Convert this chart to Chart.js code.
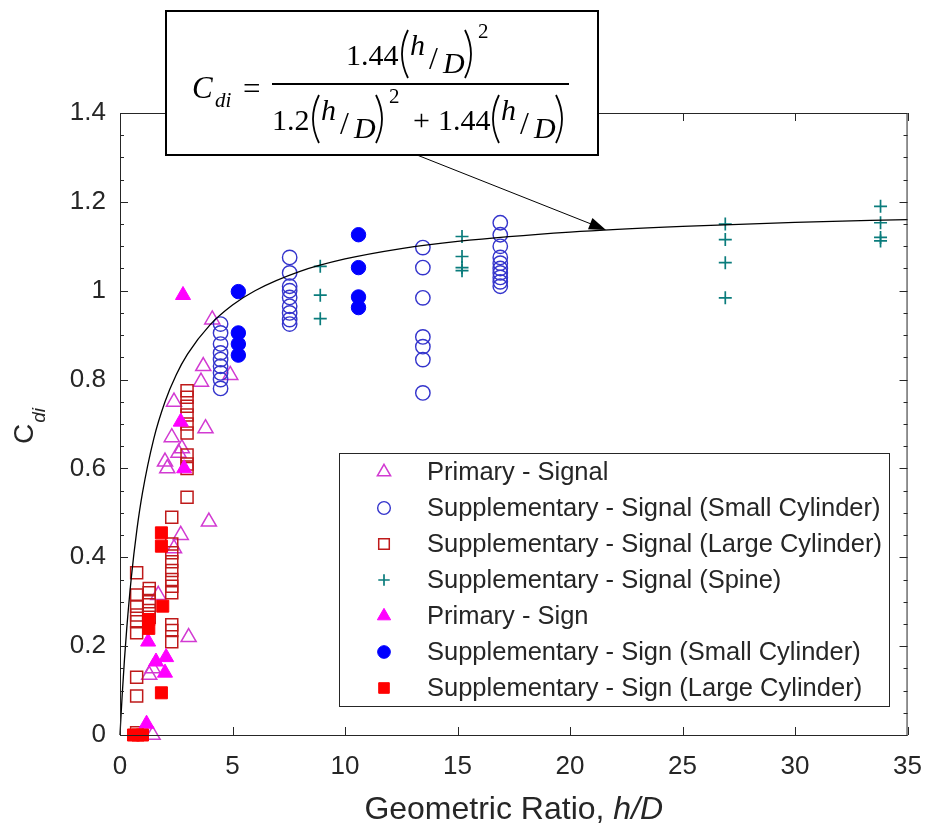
<!DOCTYPE html>
<html>
<head>
<meta charset="utf-8">
<script src="https://cdn.jsdelivr.net/npm/chart.js@4.4.1/dist/chart.umd.min.js"></script>
<style>
  html, body { margin: 0; padding: 0; background: #fff; }
  canvas { display: block; }
</style>
</head>
<body>
<canvas id="graficoCdi" width="938" height="831"></canvas>
<script>
// ejes
const xTicks = [0, 5, 10, 15, 20, 25, 30, 35];
const yTicks = [0, 0.2, 0.4, 0.6, 0.8, 1, 1.2, 1.4];
const yTickLabels = ['0', '0.2', '0.4', '0.6', '0.8', '1', '1.2', '1.4'];

// Primary - Signal
const primSignalX = [4.1, 3.7, 3.6, 4.9, 2.4, 3.8, 2.3, 2.75, 2.6, 2.0, 2.1, 3.95, 2.7, 2.4, 1.7, 3.05, 1.45, 1.3, 1.45];
const primSignalY = [0.935, 0.83, 0.795, 0.81, 0.75, 0.69, 0.67, 0.645, 0.635, 0.615, 0.6, 0.48, 0.45, 0.42, 0.315, 0.22, 0.15, 0.135, 0.0];

// Supplementary - Signal (Small Cylinder)
const smallSignalX = [4.47, 4.47, 4.47, 4.47, 4.47, 4.47, 4.47, 4.47, 4.47,
  7.54, 7.54, 7.54, 7.54, 7.54, 7.54, 7.54, 7.54, 7.54,
  13.46, 13.46, 13.46, 13.46, 13.46, 13.46, 13.46,
  16.9, 16.9, 16.9, 16.9, 16.9, 16.9, 16.9, 16.9, 16.9, 16.9];
const smallSignalY = [0.925, 0.905, 0.88, 0.86, 0.845, 0.83, 0.815, 0.8, 0.78,
  1.075, 1.04, 1.01, 1.0, 0.985, 0.965, 0.95, 0.935, 0.925,
  1.097, 1.052, 0.984, 0.896, 0.874, 0.845, 0.77,
  1.153, 1.126, 1.1, 1.075, 1.062, 1.05, 1.04, 1.03, 1.02, 1.01];

// Supplementary - Signal (Large Cylinder)
const largeSignalX = [0.74, 0.74, 0.74, 0.74, 0.74, 0.74, 0.74, 0.74, 0.74,
  1.3, 1.3, 1.3, 1.3, 1.3,
  2.3, 2.3, 2.3, 2.3, 2.3, 2.3, 2.3, 2.3, 2.3, 2.3, 2.3,
  2.98, 2.98, 2.98, 2.98, 2.98, 2.98, 2.98, 2.98, 2.98, 2.98];
const largeSignalY = [0.365, 0.315, 0.29, 0.27, 0.255, 0.23, 0.13, 0.088, 0.005,
  0.33, 0.32, 0.3, 0.28, 0.265,
  0.49, 0.43, 0.41, 0.39, 0.37, 0.35, 0.335, 0.32, 0.248, 0.235, 0.21,
  0.775, 0.76, 0.74, 0.72, 0.7, 0.68, 0.63, 0.61, 0.6, 0.535];

// Supplementary - Signal (Spine)
const spineX = [8.9, 8.9, 8.9, 15.2, 15.2, 15.2, 15.2, 26.9, 26.9, 26.9, 26.9, 33.8, 33.8, 33.8, 33.8];
const spineY = [1.055, 0.99, 0.937, 1.122, 1.077, 1.052, 1.045, 1.15, 1.115, 1.063, 0.984, 1.19, 1.153, 1.12, 1.112];

// Primary - Sign
const primSignX = [2.8, 2.7, 2.85, 1.25, 2.05, 1.6, 2.0, 1.18];
const primSignY = [0.99, 0.705, 0.6, 0.21, 0.175, 0.165, 0.14, 0.025];

// Supplementary - Sign (Small Cylinder)
const smallSignX = [5.26, 5.26, 5.26, 5.26, 10.6, 10.6, 10.6, 10.6];
const smallSignY = [0.998, 0.905, 0.88, 0.855, 1.126, 1.052, 0.986, 0.962];

// Supplementary - Sign (Large Cylinder)
const largeSignX = [1.84, 1.84, 1.9, 1.28, 1.28, 1.84, 0.6, 1.0, 0.8];
const largeSignY = [0.455, 0.425, 0.29, 0.26, 0.24, 0.095, 0.0, 0.0, 0.0];

// curva ajustada Cdi = 1.44(h/D)^2 / (1.2(h/D)^2 + 1.44(h/D))
const coefA = 1.44;
const coefB = 1.2;
const curveX = [0, 0.02, 0.05, 0.1, 0.2, 0.3, 0.5, 0.75, 1, 1.5, 2, 2.5, 3, 4, 5, 6, 8, 10, 12.5, 15, 20, 25, 30, 35];
const arrowAtX = 21.6;

const cdi = x => x === 0 ? 0 : (coefA * x * x) / (coefB * x * x + coefA * x);

const sans = "'Liberation Sans', Arial, Helvetica, sans-serif";
const serif = "'Liberation Serif', 'DejaVu Serif', serif";
const ink = '#262626';

function puntos(xs, ys) {
  return xs.map((x, i) => ({ x: x, y: ys[i] }));
}

function serie(label, xs, ys, style, radius, stroke, fill, bw, orden) {
  return {
    label: label,
    data: puntos(xs, ys),
    showLine: false,
    pointStyle: style,
    pointRadius: radius,
    pointHoverRadius: radius,
    pointBorderColor: stroke,
    pointBackgroundColor: fill,
    pointBorderWidth: bw,
    borderColor: stroke,
    backgroundColor: fill,
    clip: false,
    order: orden
  };
}

const datasets = [
  serie('Primary - Signal', primSignalX, primSignalY, 'triangle', 8.7, '#d23ad2', 'rgba(0,0,0,0)', 1.5, 8),
  serie('Supplementary - Signal (Small Cylinder)', smallSignalX, smallSignalY, 'circle', 7.2, '#3434cc', 'rgba(0,0,0,0)', 1.4, 7),
  serie('Supplementary - Signal (Large Cylinder)', largeSignalX, largeSignalY, 'rect', 8.5, '#bf1a1a', 'rgba(0,0,0,0)', 1.5, 6),
  serie('Supplementary - Signal (Spine)', spineX, spineY, 'cross', 6.5, '#0a7c7c', 'rgba(0,0,0,0)', 1.7, 5),
  serie('Primary - Sign', primSignX, primSignY, 'triangle', 8.7, '#ff00ff', '#ff00ff', 1, 4),
  serie('Supplementary - Sign (Small Cylinder)', smallSignX, smallSignY, 'circle', 7.2, '#0000ff', '#0000ff', 1, 3),
  serie('Supplementary - Sign (Large Cylinder)', largeSignX, largeSignY, 'rect', 8.5, '#ff0000', '#ff0000', 1, 2),
  {
    label: 'curva',
    type: 'line',
    data: curveX.map(x => ({ x: x, y: cdi(x) })),
    borderColor: '#000',
    borderWidth: 1.3,
    pointRadius: 0,
    cubicInterpolationMode: 'monotone',
    fill: false,
    clip: false,
    order: 1
  }
];

// caja, marcas de los ejes y titulos
const marcoPlugin = {
  id: 'marco',
  afterDatasetsDraw(chart) {
    const ctx = chart.ctx;
    const a = chart.chartArea;
    const sx = chart.scales.x, sy = chart.scales.y;
    ctx.save();
    ctx.strokeStyle = ink;
    ctx.lineWidth = 1;
    ctx.strokeRect(a.left + 0.5, a.top + 0.5, a.right - a.left - 1, a.bottom - a.top);
    ctx.beginPath();
    xTicks.forEach(v => {
      const p = Math.round(sx.getPixelForValue(v)) + 0.5;
      ctx.moveTo(p, a.bottom); ctx.lineTo(p, a.bottom - 8);
      ctx.moveTo(p, a.top); ctx.lineTo(p, a.top + 8);
    });
    for (let k = 0; k <= 28; k++) {
      const v = k * 0.05;
      const len = k % 4 === 0 ? 8 : 4;
      const p = Math.round(sy.getPixelForValue(v)) + 0.5;
      ctx.moveTo(a.left, p); ctx.lineTo(a.left + len, p);
      ctx.moveTo(a.right, p); ctx.lineTo(a.right - len, p);
    }
    ctx.stroke();

    // titulo eje x
    ctx.fillStyle = ink;
    ctx.textBaseline = 'alphabetic';
    const t1 = 'Geometric Ratio, ';
    const t2 = 'h/D';
    ctx.font = '32px ' + sans;
    const w1 = ctx.measureText(t1).width;
    ctx.font = 'italic 32px ' + sans;
    const w2 = ctx.measureText(t2).width;
    const cx = (a.left + a.right) / 2;
    let x0 = cx - (w1 + w2) / 2;
    ctx.font = '32px ' + sans;
    ctx.fillText(t1, x0, 819);
    ctx.font = 'italic 32px ' + sans;
    ctx.fillText(t2, x0 + w1, 819);

    // titulo eje y
    ctx.translate(33, 444);
    ctx.rotate(-Math.PI / 2);
    ctx.font = '28px ' + sans;
    ctx.fillText('C', 0, 0);
    const wc = ctx.measureText('C').width;
    ctx.font = 'italic 19px ' + sans;
    ctx.fillText('di', wc + 1, 12);
    ctx.restore();
  }
};

// leyenda dentro del area de datos
const leyendaPlugin = {
  id: 'leyenda',
  afterDraw(chart) {
    const ctx = chart.ctx;
    const left = 339, top = 453, w = 550, h = 253;
    ctx.save();
    ctx.fillStyle = '#fff';
    ctx.fillRect(left, top, w, h);
    ctx.strokeStyle = ink;
    ctx.lineWidth = 1;
    ctx.strokeRect(left + 0.5, top + 0.5, w, h);
    chart.data.datasets.forEach((ds, i) => {
      if (ds.type === 'line') return;
      const y = 472 + i * 36;
      ctx.fillStyle = ds.pointBackgroundColor;
      ctx.strokeStyle = ds.pointBorderColor;
      ctx.lineWidth = ds.pointBorderWidth;
      Chart.helpers.drawPoint(ctx, {
        pointStyle: ds.pointStyle,
        radius: ds.pointRadius * 0.88,
        rotation: 0,
        borderWidth: ds.pointBorderWidth
      }, 384, y);
      ctx.fillStyle = ink;
      ctx.font = '25.5px ' + sans;
      ctx.textBaseline = 'middle';
      ctx.fillText(ds.label, 427, y + 1);
    });
    ctx.restore();
  }
};

// parentesis dibujado como curva
function parentesis(ctx, x, top, bottom, abre) {
  const mid = (top + bottom) / 2;
  ctx.beginPath();
  if (abre) {
    ctx.moveTo(x + 9, top);
    ctx.quadraticCurveTo(x - 3, mid, x + 9, bottom);
  } else {
    ctx.moveTo(x, top);
    ctx.quadraticCurveTo(x + 12, mid, x, bottom);
  }
  ctx.stroke();
}

// (h/D) con exponente opcional; b = linea base de los numeros
function grupoHD(ctx, x0, b, cuadrado) {
  ctx.lineWidth = 1.8;
  parentesis(ctx, x0, b - 35, b + 13, true);
  ctx.font = 'italic 30px ' + serif;
  ctx.fillText('h', x0 + 11, b - 10);
  ctx.font = '32px ' + serif;
  ctx.fillText('/', x0 + 30, b + 4);
  ctx.font = 'italic 30px ' + serif;
  ctx.fillText('D', x0 + 44, b + 8);
  parentesis(ctx, x0 + 66, b - 35, b + 13, false);
  if (cuadrado) {
    ctx.font = '21px ' + serif;
    ctx.fillText('2', x0 + 79, b - 27);
  }
}

const formulaPlugin = {
  id: 'formula',
  afterDraw(chart) {
    const ctx = chart.ctx;
    const sx = chart.scales.x, sy = chart.scales.y;
    ctx.save();

    // flecha hacia la curva
    const tx = sx.getPixelForValue(arrowAtX);
    const ty = sy.getPixelForValue(cdi(arrowAtX));
    const ox = 417, oy = 155;
    const ang = Math.atan2(ty - oy, tx - ox);
    ctx.strokeStyle = '#000';
    ctx.fillStyle = '#000';
    ctx.lineWidth = 1;
    ctx.beginPath();
    ctx.moveTo(ox, oy);
    ctx.lineTo(tx - 14 * Math.cos(ang), ty - 14 * Math.sin(ang));
    ctx.stroke();
    ctx.beginPath();
    ctx.moveTo(tx, ty);
    ctx.lineTo(tx - 17 * Math.cos(ang) + 6 * Math.sin(ang), ty - 17 * Math.sin(ang) - 6 * Math.cos(ang));
    ctx.lineTo(tx - 17 * Math.cos(ang) - 6 * Math.sin(ang), ty - 17 * Math.sin(ang) + 6 * Math.cos(ang));
    ctx.closePath();
    ctx.fill();

    // recuadro
    ctx.fillStyle = '#fff';
    ctx.fillRect(166, 11, 432, 144);
    ctx.lineWidth = 2;
    ctx.strokeRect(166, 11, 432, 144);

    ctx.fillStyle = '#000';
    ctx.textBaseline = 'alphabetic';
    ctx.font = 'italic 31px ' + serif;
    ctx.fillText('C', 192, 98);
    ctx.font = 'italic 21px ' + serif;
    ctx.fillText('di', 215, 107);
    ctx.font = '31px ' + serif;
    ctx.fillText('=', 243, 99);

    // barra de fraccion
    ctx.fillRect(272, 83, 297, 2);

    // numerador
    ctx.font = '30px ' + serif;
    ctx.fillText('1.44', 346, 65);
    grupoHD(ctx, 399, 65, true);

    // denominador
    ctx.font = '30px ' + serif;
    ctx.fillText('1.2', 272, 130);
    grupoHD(ctx, 310, 130, true);
    ctx.font = '30px ' + serif;
    ctx.fillText('+', 413, 130);
    ctx.fillText('1.44', 438, 130);
    grupoHD(ctx, 490, 130, false);

    ctx.restore();
  }
};

const ctx = document.getElementById('graficoCdi').getContext('2d');
const grafico = new Chart(ctx, {
  type: 'scatter',
  data: { datasets: datasets },
  options: {
    responsive: false,
    animation: false,
    devicePixelRatio: 1,
    layout: { padding: { top: 113, right: 20, left: 0, bottom: 0 } },
    plugins: {
      legend: { display: false },
      tooltip: { enabled: false }
    },
    scales: {
      x: {
        type: 'linear',
        min: 0,
        max: 35,
        afterFit: s => { s.height = 96; },
        afterBuildTicks: s => { s.ticks = xTicks.map(v => ({ value: v })); },
        grid: { display: false, drawTicks: false },
        border: { display: false },
        ticks: {
          padding: 16,
          color: ink,
          font: { family: sans, size: 26 },
          maxRotation: 0,
          callback: v => String(v)
        }
      },
      y: {
        type: 'linear',
        min: 0,
        max: 1.4,
        afterFit: s => { s.width = 120; },
        afterBuildTicks: s => { s.ticks = yTicks.map(v => ({ value: v })); },
        grid: { display: false, drawTicks: false },
        border: { display: false },
        ticks: {
          padding: 14,
          color: ink,
          font: { family: sans, size: 26 },
          callback: (v, i) => yTickLabels[i]
        }
      }
    }
  },
  plugins: [marcoPlugin, leyendaPlugin, formulaPlugin]
});
</script>
</body>
</html>
